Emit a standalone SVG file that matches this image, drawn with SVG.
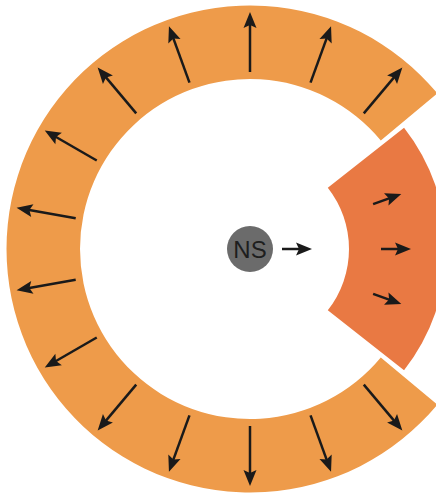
<svg xmlns="http://www.w3.org/2000/svg" width="436" height="496" viewBox="0 0 436 496">
<defs>
<marker id="ah" markerUnits="userSpaceOnUse" markerWidth="20" markerHeight="16" refX="5" refY="0" viewBox="0 -8 20 16" orient="auto" overflow="visible">
<path d="M-1,-6.5 L15,0 L-1,6.5 L2,0 Z" fill="#1a1a1a"/>
</marker>
</defs>
<style>
.ring{fill:#EE9B4A}
.sector{fill:#E97943}
.arr{stroke:#1a1a1a;stroke-width:2.5;fill:none;marker-end:url(#ah)}
.ns{fill:#6B6B6B}
.lbl{font-family:"Liberation Sans",Arial,sans-serif;font-size:24px;fill:#1E1E1E;text-anchor:middle}
</style>
<rect width="436" height="496" fill="#ffffff"/>
<g id="ring">
<path class="ring" d="M437.35,93.45 A243.5,243.5 0 1 0 437.35,404.55 L380.80,357.60 A170,170 0 1 1 380.80,140.40 Z"/>
</g>
<g id="sector">
<path class="sector" d="M327.80,187.78 L404.04,127.79 A196,196 0 0 1 404.04,370.21 L327.80,310.22 A99,99 0 0 0 327.80,187.78 Z"/>
</g>
<g id="ns">
<circle class="ns" cx="250" cy="249" r="23"/>
<text class="lbl" x="250" y="258">NS</text>
</g>
<g id="connectors">
<line class="arr" x1="363.78" y1="113.42" x2="395.92" y2="75.12"/>
<line class="arr" x1="310.53" y1="82.67" x2="327.63" y2="35.69"/>
<line class="arr" x1="250" y1="72" x2="250" y2="22"/>
<line class="arr" x1="189.47" y1="82.67" x2="172.37" y2="35.69"/>
<line class="arr" x1="136.22" y1="113.42" x2="104.08" y2="75.12"/>
<line class="arr" x1="96.72" y1="160.5" x2="53.42" y2="135.5"/>
<line class="arr" x1="75.69" y1="218.27" x2="26.45" y2="209.59"/>
<line class="arr" x1="75.69" y1="279.73" x2="26.45" y2="288.41"/>
<line class="arr" x1="96.72" y1="337.5" x2="53.42" y2="362.5"/>
<line class="arr" x1="136.22" y1="384.58" x2="104.08" y2="422.88"/>
<line class="arr" x1="189.47" y1="415.33" x2="172.37" y2="462.31"/>
<line class="arr" x1="250" y1="426" x2="250" y2="476"/>
<line class="arr" x1="310.53" y1="415.33" x2="327.63" y2="462.31"/>
<line class="arr" x1="363.78" y1="384.58" x2="395.92" y2="422.88"/>
<line class="arr" x1="373.10" y1="204.20" x2="391.89" y2="197.36"/>
<line class="arr" x1="381" y1="249" x2="401" y2="249"/>
<line class="arr" x1="373.10" y1="293.80" x2="391.89" y2="300.64"/>
<line class="arr" x1="282" y1="249" x2="302" y2="249"/>
</g>
</svg>
